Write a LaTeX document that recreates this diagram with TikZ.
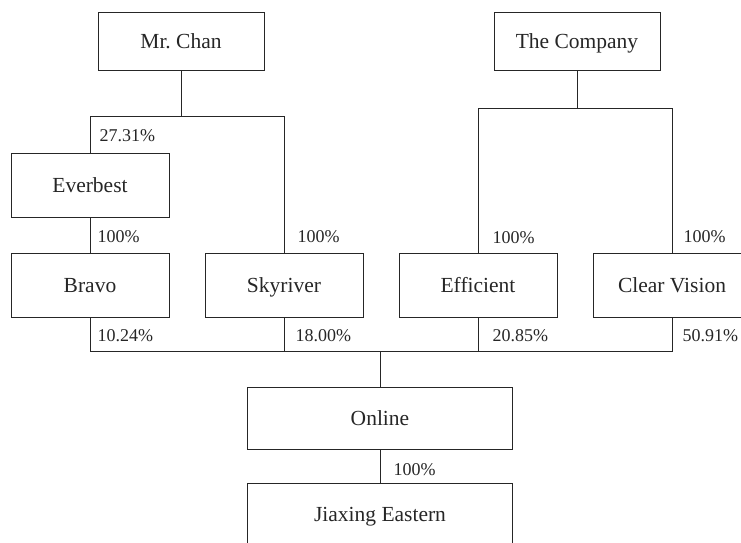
\documentclass[tikz,border=0pt]{standalone}
\usepackage{fontspec}
\setmainfont{Liberation Serif}

\begin{document}
\begin{tikzpicture}[x=1pt,y=-1pt,line width=1pt,color=black!85,firm node/.style={rectangle,draw,minimum width=158pt,minimum height=64pt,inner sep=0pt,text height=14.2pt,text depth=0pt,font=\fontsize{21.5}{25}\selectfont},share node/.style={anchor=west,inner sep=0pt,font=\fontsize{18}{22}\selectfont}]
  \useasboundingbox (0,0) rectangle (741,542);
  \clip (0,0) rectangle (741,542);

  \node[firm node,minimum width=166pt,minimum height=58pt] (chan) at (181,41) {Mr.\ Chan};
  \node[firm node,minimum width=166pt,minimum height=58pt] (company) at (577,41) {The Company};
  \node[firm node] (everbest) at (90,185) {Everbest};
  \node[firm node] (bravo) at (90,285) {Bravo};
  \node[firm node] (skyriver) at (284,285) {Skyriver};
  \node[firm node] (efficient) at (478,285) {Efficient};
  \node[firm node] (clear) at (672,285) {Clear Vision};
  \node[firm node,minimum width=265pt,minimum height=62pt] (online) at (380,418) {Online};
  \node[firm node,minimum width=265pt,minimum height=62pt] (jiaxing) at (380,514) {Jiaxing Eastern};
  \coordinate (hub) at (380,351);

  % holdings
  \draw (chan.south) -- ++(0,46) coordinate (chanbar) -| (everbest.north);
  \draw (chanbar) -| (skyriver.north);
  \draw (company.south) -- ++(0,38) coordinate (companybar) -| (efficient.north);
  \draw (companybar) -| (clear.north);
  \draw (everbest) -- (bravo);
  \draw (bravo.south) |- (hub) -| (clear.south);
  \draw (skyriver.south) -- (skyriver.south |- hub);
  \draw (efficient.south) -- (efficient.south |- hub);
  \draw (online) -- (hub);
  \draw (online) -- (jiaxing);

  \node[share node] (chanev) at (99,136) {27.31\%};
  \node[share node] (evbr) at (97,237) {100\%};
  \node[share node] (chansky) at (297,237) {100\%};
  \node[share node] (coeff) at (492,238) {100\%};
  \node[share node] (cocl) at (683,237) {100\%};
  \node[share node] (bron) at (97,336) {10.24\%};
  \node[share node] (skyon) at (295,336) {18.00\%};
  \node[share node] (effon) at (492,336) {20.85\%};
  \node[share node] (clon) at (682,336) {50.91\%};
  \node[share node] (onji) at (393,470) {100\%};
\end{tikzpicture}
\end{document}
